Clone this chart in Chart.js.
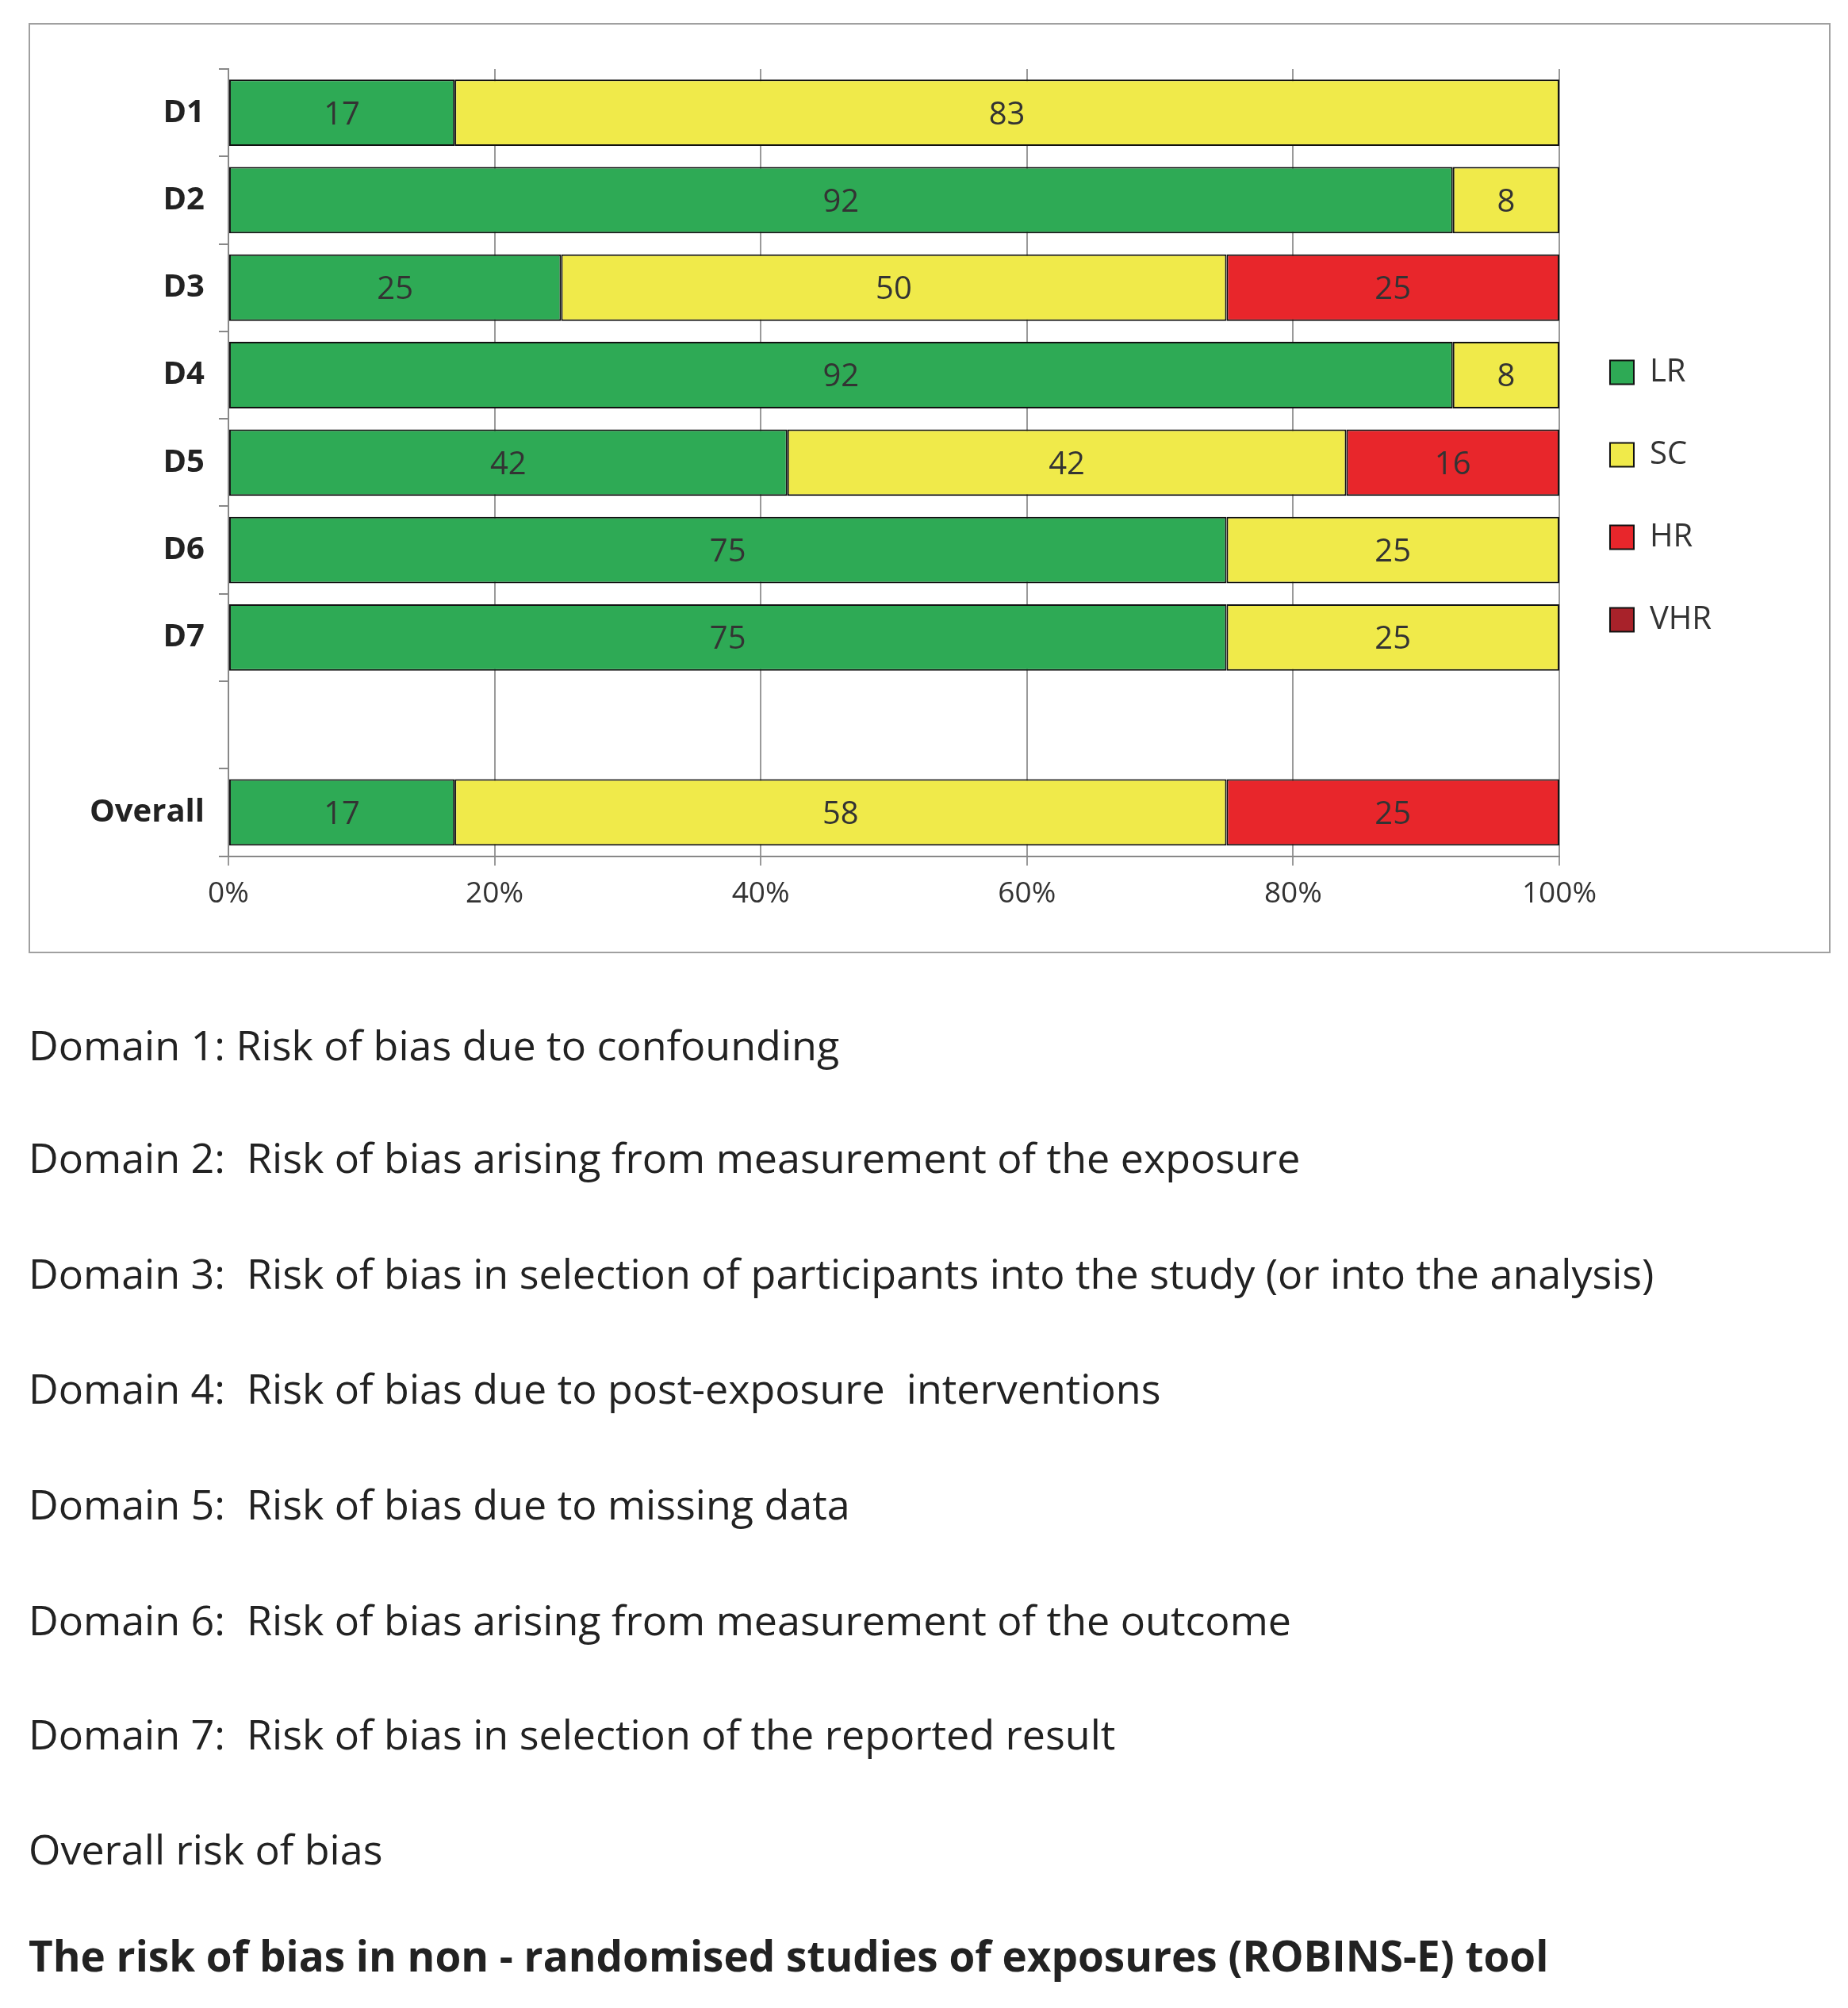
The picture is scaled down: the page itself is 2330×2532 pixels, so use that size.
<!DOCTYPE html>
<html>
<head>
<meta charset="utf-8">
<script src="https://cdn.jsdelivr.net/npm/chart.js@4"></script>
<style>
  body { margin: 0; background: #fff; width: 2330px; height: 2532px; position: relative; font-family: "Open Sans", sans-serif; }
  #box { position: absolute; left: 36px; top: 29px; width: 2268px; height: 1169px; border: 2px solid #a0a0a0; }
  .line { position: absolute; left: 36px; font-size: 52px; color: #222; white-space: pre; }
  .title { font-weight: bold; font-size: 53px; }
</style>
</head>
<body>
<div id="box"><canvas id="c"></canvas></div>
<div id="txt"></div>
<script>
// categories and percentages per risk level
const categorias = ["D1", "D2", "D3", "D4", "D5", "D6", "D7", "", "Overall"];
const LR  = [17, 92, 25, 92, 42, 75, 75, null, 17];
const SC  = [83,  8, 50,  8, 42, 25, 25, null, 58];
const HR  = [ 0,  0, 25,  0, 16,  0,  0, null, 25];
const VHR = [ 0,  0,  0,  0,  0,  0,  0, null,  0];
const rotulosX = ["0%", "20%", "40%", "60%", "80%", "100%"];

const linhas = [
  [1319, "Domain 1: Risk of bias due to confounding"],
  [1461, "Domain 2:  Risk of bias arising from measurement of the exposure"],
  [1607, "Domain 3:  Risk of bias in selection of participants into the study (or into the analysis)"],
  [1752, "Domain 4:  Risk of bias due to post-exposure  interventions"],
  [1898, "Domain 5:  Risk of bias due to missing data"],
  [2044, "Domain 6:  Risk of bias arising from measurement of the outcome"],
  [2188, "Domain 7:  Risk of bias in selection of the reported result"],
  [2333, "Overall risk of bias"],
];
const txt = document.getElementById("txt");
linhas.forEach(([y, t]) => {
  const d = document.createElement("div");
  d.className = "line"; d.style.top = (y - 38) + "px"; d.textContent = t;
  txt.appendChild(d);
});
const ttl = document.createElement("div");
ttl.className = "line title"; ttl.style.top = (2467 - 38) + "px";
ttl.textContent = "The risk of bias in non - randomised studies of exposures (ROBINS-E) tool";
txt.appendChild(ttl);

// rotulos dentro das barras
const rotulos = {
  id: "rotulos",
  afterDatasetsDraw(chart) {
    const ctx = chart.ctx;
    ctx.save();
    ctx.font = "40px 'Open Sans', sans-serif";
    ctx.textAlign = "center"; ctx.textBaseline = "middle";
    chart.data.datasets.forEach((ds, i) => {
      chart.getDatasetMeta(i).data.forEach((bar, j) => {
        const v = ds.data[j];
        if (!v) return;
        ctx.fillStyle = "#333";
        ctx.fillText(v, (bar.x + bar.base) / 2, bar.y + 3);
      });
    });
    ctx.restore();
  }
};

// legenda mais larga
const legendaLarga = {
  id: "legendaLarga",
  beforeInit(chart) {
    const fit = chart.legend.fit;
    chart.legend.fit = function () { fit.bind(chart.legend)(); this.width += 118; };
  }
};

const cor = (label, c) => ({ label, backgroundColor: c, borderColor: "#111", borderWidth: 2, borderSkipped: false, barPercentage: 0.76, categoryPercentage: 1 });

new Chart(document.getElementById("c"), {
  type: "bar",
  data: {
    labels: categorias,
    datasets: [
      { ...cor("LR", "#2eaa55"), data: LR },
      { ...cor("SC", "#f0ea4a"), data: SC },
      { ...cor("HR", "#e8262b"), data: HR },
      { ...cor("VHR", "#a8222a"), data: VHR },
    ]
  },
  options: {
    indexAxis: "y",
    responsive: true,
    maintainAspectRatio: false,
    animation: false,
    layout: { padding: { top: 56, left: 57, right: 20, bottom: 36 } },
    font: { family: "'Open Sans', sans-serif" },
    scales: {
      x: {
        stacked: true, min: 0, max: 100,
        ticks: { stepSize: 20, color: "#333", font: { size: 37, family: "'Open Sans', sans-serif" }, padding: 14, callback: (v, i) => rotulosX[i] },
        grid: { color: "#9a9a9a", lineWidth: 2, tickLength: 12 },
        border: { color: "#888", width: 2 }
      },
      y: {
        stacked: true,
        ticks: { color: "#222", font: { size: 40, weight: "bold", family: "'Open Sans', sans-serif" }, padding: 18 },
        grid: { offset: true, drawOnChartArea: false, color: "#888", lineWidth: 2, tickLength: 12 },
        border: { color: "#888", width: 2 }
      }
    },
    plugins: {
      legend: {
        position: "right",
        labels: { boxWidth: 30, boxHeight: 30, padding: 64, color: "#333", font: { size: 40, family: "'Open Sans', sans-serif" } }
      },
      tooltip: { enabled: false }
    }
  },
  plugins: [rotulos, legendaLarga]
});
</script>
</body>
</html>
